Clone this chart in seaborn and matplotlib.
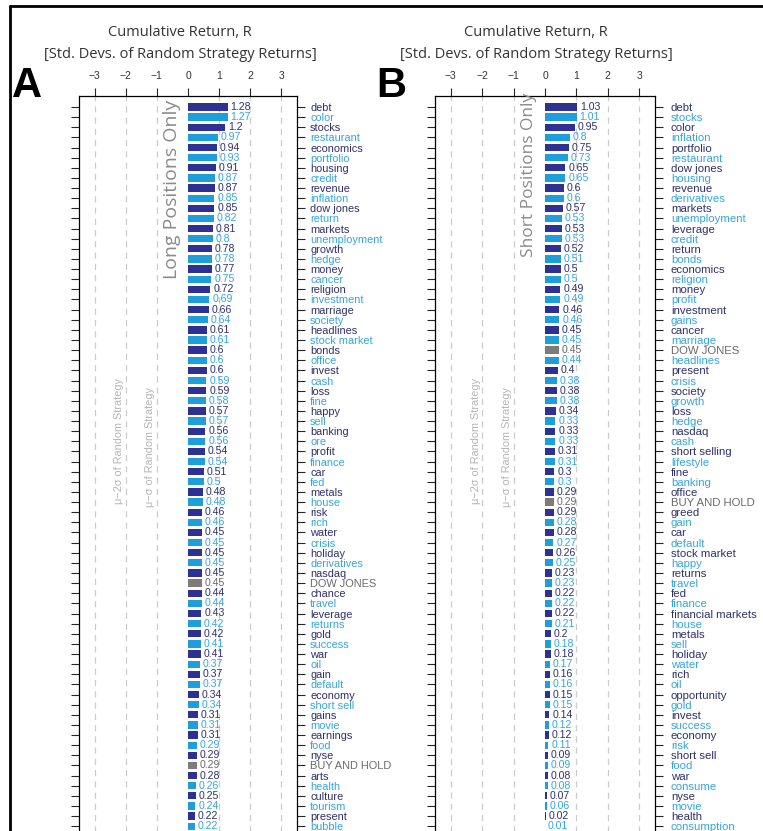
import matplotlib
matplotlib.use("Agg")
import matplotlib.pyplot as plt
from matplotlib.lines import Line2D
import pandas as pd
import seaborn as sns

# ---- data -------------------------------------------------------------
long_terms = [
    "debt", "color", "stocks", "restaurant", "economics", "portfolio", "housing",
    "credit", "revenue", "inflation", "dow jones", "return", "markets",
    "unemployment", "growth", "hedge", "money", "cancer", "religion",
    "investment", "marriage", "society", "headlines", "stock market", "bonds",
    "office", "invest", "cash", "loss", "fine", "happy", "sell", "banking",
    "ore", "profit", "finance", "car", "fed", "metals", "house", "risk", "rich",
    "water", "crisis", "holiday", "derivatives", "nasdaq", "DOW JONES",
    "chance", "travel", "leverage", "returns", "gold", "success", "war", "oil",
    "gain", "default", "economy", "short sell", "gains", "movie", "earnings",
    "food", "nyse", "BUY AND HOLD", "arts", "health", "culture", "tourism",
    "present", "bubble",
]
long_returns = [
    1.28, 1.27, 1.2, 0.97, 0.94, 0.93, 0.91, 0.87, 0.87, 0.85, 0.85, 0.82,
    0.81, 0.8, 0.78, 0.78, 0.77, 0.75, 0.72, 0.69, 0.66, 0.64, 0.61, 0.61,
    0.6, 0.6, 0.6, 0.59, 0.59, 0.58, 0.57, 0.57, 0.56, 0.56, 0.54, 0.54,
    0.51, 0.5, 0.48, 0.48, 0.46, 0.46, 0.45, 0.45, 0.45, 0.45, 0.45, 0.45,
    0.44, 0.44, 0.43, 0.42, 0.42, 0.41, 0.41, 0.37, 0.37, 0.37, 0.34, 0.34,
    0.31, 0.31, 0.31, 0.29, 0.29, 0.29, 0.28, 0.26, 0.25, 0.24, 0.22, 0.22,
]

short_terms = [
    "debt", "stocks", "color", "inflation", "portfolio", "restaurant",
    "dow jones", "housing", "revenue", "derivatives", "markets",
    "unemployment", "leverage", "credit", "return", "bonds", "economics",
    "religion", "money", "profit", "investment", "gains", "cancer", "marriage",
    "DOW JONES", "headlines", "present", "crisis", "society", "growth", "loss",
    "hedge", "nasdaq", "cash", "short selling", "lifestyle", "fine", "banking",
    "office", "BUY AND HOLD", "greed", "gain", "car", "default",
    "stock market", "happy", "returns", "travel", "fed", "finance",
    "financial markets", "house", "metals", "sell", "holiday", "water", "rich",
    "oil", "opportunity", "gold", "invest", "success", "economy", "risk",
    "short sell", "food", "war", "consume", "nyse", "movie", "health",
    "consumption",
]
short_returns = [
    1.03, 1.01, 0.95, 0.8, 0.75, 0.73, 0.65, 0.65, 0.6, 0.6, 0.57, 0.53,
    0.53, 0.53, 0.52, 0.51, 0.5, 0.5, 0.49, 0.49, 0.46, 0.46, 0.45, 0.45,
    0.45, 0.44, 0.4, 0.38, 0.38, 0.38, 0.34, 0.33, 0.33, 0.33, 0.31, 0.31,
    0.3, 0.3, 0.29, 0.29, 0.29, 0.28, 0.28, 0.27, 0.26, 0.25, 0.23, 0.23,
    0.22, 0.22, 0.22, 0.21, 0.2, 0.18, 0.18, 0.17, 0.16, 0.16, 0.15, 0.15,
    0.14, 0.12, 0.12, 0.11, 0.09, 0.09, 0.08, 0.08, 0.07, 0.06, 0.02, 0.01,
]

benchmarks = ["DOW JONES", "BUY AND HOLD"]
x_ticks = [-3, -2, -1, 0, 1, 2, 3]
sigma_marks = [-3, -2, -1, 1, 2, 3]

# ---- style ------------------------------------------------------------
BAR_DARK, BAR_LIGHT, BAR_GRAY = "#2e3192", "#1e9fda", "#7c7c7c"
TXT_DARK, TXT_LIGHT, TXT_GRAY = "#2f316b", "#34a7df", "#6a6a6a"

sns.set_style("ticks")
plt.rcParams["font.family"] = ["Liberation Sans", "DejaVu Sans"]
plt.rcParams["axes.unicode_minus"] = True

W, H = 763, 831
fig = plt.figure(figsize=(W / 100, H / 100), dpi=100)
fig.patch.set_facecolor("white")

ROW = 10.13          # pixel height of one row
FIRST_ROW_Y = 107    # pixel centre of first row
AX_TOP = 96
Y_BOTTOM = 72.0
Y_TOP = -(FIRST_ROW_Y - AX_TOP) / ROW


def colours_for(terms):
    bars, texts = [], []
    for i, t in enumerate(terms):
        if t in benchmarks:
            bars.append(BAR_GRAY)
            texts.append(TXT_GRAY)
        elif i % 2 == 0:
            bars.append(BAR_DARK)
            texts.append(TXT_DARK)
        else:
            bars.append(BAR_LIGHT)
            texts.append(TXT_LIGHT)
    return bars, texts


def draw_panel(left_px, right_px, terms, values, side_text, side_text_pos,
               side_size, label_size, label_pad):
    height_px = (Y_BOTTOM - Y_TOP) * ROW
    rect = [left_px / W, 1 - (AX_TOP + height_px) / H,
            (right_px - left_px) / W, height_px / H]
    ax = fig.add_axes(rect)

    bar_cols, txt_cols = colours_for(terms)
    df = pd.DataFrame({"term": terms, "R": values})
    sns.barplot(data=df, x="R", y="term", hue="term",
                palette=dict(zip(terms, bar_cols)), legend=False,
                orient="h", width=0.72, saturation=1, linewidth=0, ax=ax)

    ax.set_xlim(-3.5, 3.5)
    ax.set_ylim(Y_BOTTOM, Y_TOP)
    ax.set_xlabel("")
    ax.set_ylabel("")

    for x in sigma_marks:
        ax.axvline(x, color="#cccccc", lw=0.9, ls=(0, (5, 4)), zorder=0)

    # top axis with numeric ticks
    ax.xaxis.tick_top()
    ax.set_xticks(x_ticks)
    ax.tick_params(axis="x", direction="out", length=6, width=0.8,
                   pad=5, labelsize=7.5, labelcolor="#333333")

    # row ticks on both sides, labels on the right
    ax.tick_params(axis="y", which="both", left=True, right=True,
                   labelleft=False, labelright=True, direction="out",
                   length=5.5, width=0.8, pad=label_pad, labelsize=label_size)
    for lab, c in zip(ax.get_yticklabels(), txt_cols):
        lab.set_color(c)

    for side in ("top", "left", "right"):
        ax.spines[side].set_visible(True)
        ax.spines[side].set_color("black")
        ax.spines[side].set_linewidth(0.9)
    ax.spines["bottom"].set_visible(False)

    for i, (v, c) in enumerate(zip(values, txt_cols)):
        ax.annotate(f"{v:g}", xy=(v, i), xytext=(2, 0),
                    textcoords="offset points", ha="left", va="center",
                    fontsize=7.6, color=c)

    ax.text(-2.2, 33.0, "\u03bc\u22122\u03c3 of Random Strategy", rotation=90,
            ha="center", va="center", fontsize=7.8, color="#b5b5b5")
    ax.text(-1.22, 33.6, "\u03bc\u2212\u03c3 of Random Strategy", rotation=90,
            ha="center", va="center", fontsize=7.8, color="#b5b5b5")

    ax.text(side_text_pos[0], side_text_pos[1], side_text, rotation=90,
            ha="center", va="center", fontsize=side_size, color="#8a8a8a",
            family=["Open Sans", "DejaVu Sans"])
    return ax


draw_panel(79, 297, long_terms, long_returns, "Long Positions Only",
           (-0.52, 8.1), 14, 7.9, 4)
draw_panel(435, 655, short_terms, short_returns, "Short Positions Only",
           (-0.5, 6.7), 12.5, 8.2, 6)

# panel headers
for cx, letter, lx in ((180, "A", 12), (536, "B", 376)):
    fig.text(cx / W, 1 - 33 / H, "Cumulative Return, R", ha="center",
             va="center", fontsize=10.5, color="#333333",
             family=["Open Sans", "DejaVu Sans"])
    fig.text(cx / W, 1 - 55 / H, "[Std. Devs. of Random Strategy Returns]",
             ha="center", va="center", fontsize=10.5, color="#333333",
             family=["Open Sans", "DejaVu Sans"])
    fig.text(lx / W, 1 - 97 / H, letter, ha="left", va="baseline",
             fontsize=30, fontweight="bold", color="black")

# outer frame
fig.add_artist(Line2D([10 / W, 1], [1 - 6 / H, 1 - 6 / H], color="black",
                      lw=2, transform=fig.transFigure))
fig.add_artist(Line2D([10 / W, 10 / W], [0, 1 - 6 / H], color="black",
                      lw=2, transform=fig.transFigure))

fig.savefig("out.png", dpi=100, facecolor="white")
